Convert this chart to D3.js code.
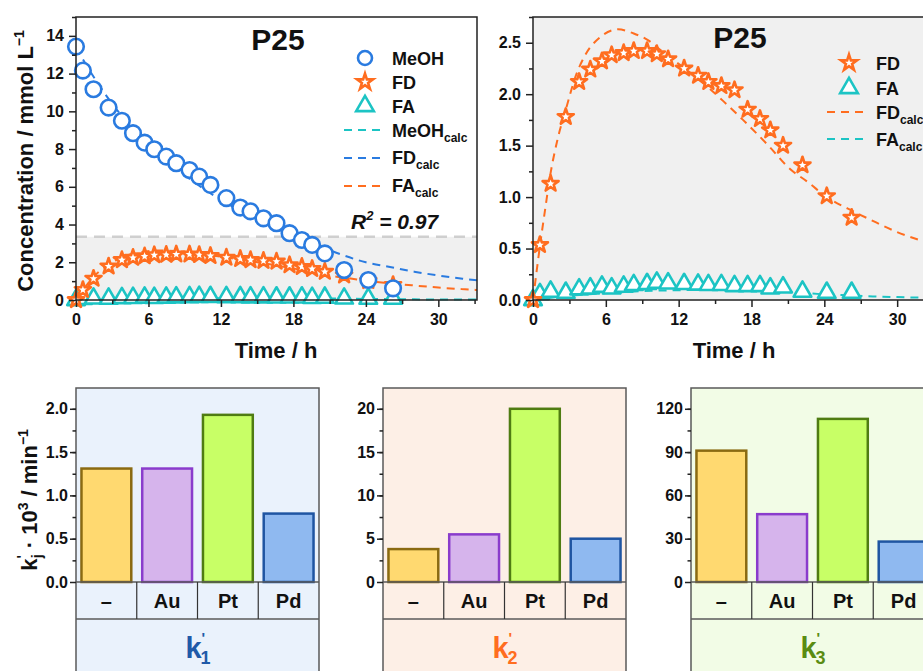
<!DOCTYPE html>
<html>
<head>
<meta charset="utf-8">
<script src="https://cdn.jsdelivr.net/npm/d3@7"></script>
<style>
  body { margin: 0; background: #fff; overflow: hidden; }
  text { font-family: Arial, "Liberation Sans", sans-serif; font-weight: bold; fill: #111; }
  .axis line { stroke: #222; stroke-width: 1.5; }
  .axis path { display: none; }
  .axis text { font-size: 16px; }
</style>
</head>
<body>
<script>
// ---- time series (P25) ----
const timeH = [0, 0.57, 1.45, 2.7, 3.8, 4.72, 5.68, 6.48, 7.47, 8.3, 9.4, 10.2, 11.13, 12.45, 13.6, 14.45, 15.52, 16.6, 17.68, 18.7, 19.55, 20.6, 22.2, 24.2, 26.25];
const meoh = [13.43, 12.16, 11.17, 10.2, 9.5, 8.84, 8.34, 7.99, 7.6, 7.25, 6.89, 6.54, 6.1, 5.4, 4.9, 4.7, 4.33, 4.07, 3.54, 3.18, 2.92, 2.47, 1.59, 1.06, 0.62];
const fd = [0.0, 0.535, 1.13, 1.78, 2.12, 2.24, 2.32, 2.38, 2.40, 2.42, 2.42, 2.39, 2.34, 2.25, 2.18, 2.12, 2.08, 2.04, 1.85, 1.76, 1.65, 1.50, 1.31, 1.01, 0.80];
const fa = [0.0, 0.058, 0.081, 0.071, 0.104, 0.113, 0.13, 0.113, 0.13, 0.146, 0.156, 0.169, 0.162, 0.156, 0.15, 0.146, 0.146, 0.136, 0.136, 0.136, 0.113, 0.123, 0.081, 0.071, 0.071];

const meohCalcT = [0, 1, 2, 3, 4, 5, 6, 8, 10, 12, 14, 16, 18, 20, 22, 24, 26, 28, 30, 32, 33.2];
const meohCalc = [13.4, 12.3, 11.3, 10.4, 9.6, 8.9, 8.25, 7.1, 6.15, 5.3, 4.6, 3.95, 3.4, 2.9, 2.4, 2.0, 1.75, 1.5, 1.3, 1.13, 1.05];
const fdCalcT = [0, 0.3, 0.6, 1.0, 1.4, 2.0, 2.7, 3.5, 4.4, 5.5, 7.0, 8.3, 9.4, 11, 12.5, 14, 15.7, 17.3, 19.4, 21.2, 22.6, 24.2, 25.9, 27.8, 30, 31.9, 33.2];
const fdCalc = [0, 0.28, 0.55, 0.88, 1.2, 1.55, 1.85, 2.17, 2.40, 2.55, 2.63, 2.59, 2.53, 2.38, 2.25, 2.11, 1.93, 1.75, 1.5, 1.27, 1.15, 1.0, 0.89, 0.78, 0.66, 0.58, 0.53];
const faCalcT = [0, 1, 2, 4, 6, 8, 10, 12, 14, 16, 18, 20, 22, 24, 26, 28, 30, 33.2];
const faCalc = [0, 0.015, 0.03, 0.05, 0.065, 0.08, 0.09, 0.095, 0.1, 0.1, 0.095, 0.085, 0.07, 0.055, 0.045, 0.035, 0.028, 0.02];

const xTicks = [0, 6, 12, 18, 24, 30];
const xMinor = [3, 9, 15, 21, 27, 33];
const yTicksL = [0, 2, 4, 6, 8, 10, 12, 14];
const yMinorL = [1, 3, 5, 7, 9, 11, 13, 15];
const yTicksR = [0, 0.5, 1.0, 1.5, 2.0, 2.5];
const yMinorR = [0.25, 0.75, 1.25, 1.75, 2.25, 2.75];

// ---- rate constants ----
const catalysts = ['–', 'Au', 'Pt', 'Pd'];
const k1 = [1.31, 1.31, 1.93, 0.79];
const k2 = [3.8, 5.5, 20.0, 5.0];
const k3 = [91, 47, 113, 28];
const k1Ticks = [0, 0.5, 1.0, 1.5, 2.0];
const k2Ticks = [0, 5, 10, 15, 20];
const k3Ticks = [0, 30, 60, 90, 120];

const BLUE = '#2a7be0', ORANGE = '#ff6d1f', CYAN = '#1cc4c4';
const barFill = ['#ffd970', '#d6b4ec', '#c8ff66', '#8fb9f0'];
const barStroke = ['#8a6a12', '#8a3ccc', '#4f7c12', '#1f55a2'];

const svg = d3.select('body').append('svg').attr('width', 923).attr('height', 671);

const star = d3.symbol().type(d3.symbolStar).size(80);
const tri = d3.symbol().type(d3.symbolTriangle).size(135);

function axes(g, x, y, xt, xm, yt, ym, yFmt, pad) {
  const y0 = y.range()[0], x0 = x.range()[0];
  g.append('g').attr('class', 'axis').attr('transform', `translate(0,${y0})`)
    .call(d3.axisBottom(x).tickValues(xt).tickSize(7).tickPadding(7).tickFormat(d3.format('d')));
  g.append('g').attr('class', 'axis').attr('transform', `translate(0,${y0})`)
    .call(d3.axisBottom(x).tickValues(xm).tickSize(4).tickFormat(''));
  g.append('g').attr('class', 'axis').attr('transform', `translate(${x0},0)`)
    .call(d3.axisLeft(y).tickValues(yt).tickSize(7).tickPadding(pad).tickFormat(yFmt));
  g.append('g').attr('class', 'axis').attr('transform', `translate(${x0},0)`)
    .call(d3.axisLeft(y).tickValues(ym).tickSize(4).tickFormat(''));
}

function dashed(g, x, y, tArr, vArr, color) {
  const line = d3.line().x((d) => x(d[0])).y((d) => y(d[1])).curve(d3.curveMonotoneX);
  g.append('path').datum(tArr.map((t, i) => [t, vArr[i]]))
    .attr('d', line).attr('fill', 'none').attr('stroke', color)
    .attr('stroke-width', 2).attr('stroke-dasharray', '8,6');
}

function markers(g, x, y, vArr, kind, color) {
  const pts = timeH.map((t, i) => [x(t), y(vArr[i])]);
  if (kind === 'circle') {
    g.selectAll(null).data(pts).join('circle')
      .attr('cx', (d) => d[0]).attr('cy', (d) => d[1]).attr('r', 7.8)
      .attr('fill', '#fff').attr('stroke', color).attr('stroke-width', 2.6);
  } else {
    g.selectAll(null).data(pts).join('path')
      .attr('transform', (d) => `translate(${d[0]},${d[1]})`)
      .attr('d', kind === 'star' ? star : tri)
      .attr('fill', '#fff').attr('stroke', color).attr('stroke-width', 2.6)
      .attr('stroke-linejoin', 'round');
  }
}

function legendMark(g, cx, cy, kind, color) {
  if (kind === 'circle') {
    g.append('circle').attr('cx', cx).attr('cy', cy).attr('r', 7)
      .attr('fill', '#fff').attr('stroke', color).attr('stroke-width', 2.6);
  } else if (kind === 'line') {
    g.append('line').attr('x1', cx - 21).attr('x2', cx + 21).attr('y1', cy).attr('y2', cy)
      .attr('stroke', color).attr('stroke-width', 2).attr('stroke-dasharray', '8,6');
  } else {
    g.append('path').attr('transform', `translate(${cx},${cy})`)
      .attr('d', kind === 'star' ? star : tri)
      .attr('fill', '#fff').attr('stroke', color).attr('stroke-width', 2.6);
  }
}

function legendText(g, x, y, main, sub) {
  const t = g.append('text').attr('x', x).attr('y', y).attr('font-size', 18).text(main);
  if (sub) t.append('tspan').attr('font-size', 12).attr('dy', 5).text(sub);
}

function frame(g, x, y) {
  const [x0, x1] = x.range(), [y0, y1] = y.range();
  g.append('path').attr('d', `M${x0},${y0}V${y1}H${x1}V${y0}Z`)
    .attr('fill', 'none').attr('stroke', '#222').attr('stroke-width', 1.5);
}

// ---- top left ----
{
  const g = svg.append('g');
  const x = d3.scaleLinear().domain([0, 33.2]).range([76, 477]);
  const y = d3.scaleLinear().domain([0, 15]).range([300, 17]);
  g.append('rect').attr('x', 76).attr('y', y(3.35)).attr('width', 401).attr('height', y(0) - y(3.35))
    .attr('fill', '#f0f0f0');
  g.append('line').attr('x1', 76).attr('x2', 477).attr('y1', y(3.35)).attr('y2', y(3.35))
    .attr('stroke', '#cfcfcf').attr('stroke-width', 2.5).attr('stroke-dasharray', '11,7');
  dashed(g, x, y, faCalcT, faCalc, CYAN);
  dashed(g, x, y, meohCalcT, meohCalc, BLUE);
  dashed(g, x, y, fdCalcT, fdCalc, ORANGE);
  markers(g, x, y, fa, 'tri', CYAN);
  markers(g, x, y, fd, 'star', ORANGE);
  markers(g, x, y, meoh, 'circle', BLUE);
  frame(g, x, y);
  axes(g, x, y, xTicks, xMinor, yTicksL, yMinorL, d3.format('d'), 5);

  g.append('text').attr('x', 278).attr('y', 50).attr('text-anchor', 'middle').attr('font-size', 30).text('P25');
  legendMark(g, 365, 58, 'circle', BLUE); legendText(g, 392, 65, 'MeOH');
  legendMark(g, 365, 82, 'star', ORANGE); legendText(g, 392, 89, 'FD');
  legendMark(g, 365, 106, 'tri', CYAN); legendText(g, 392, 113, 'FA');
  legendMark(g, 365, 130, 'line', CYAN); legendText(g, 392, 137, 'MeOH', 'calc');
  legendMark(g, 365, 158, 'line', BLUE); legendText(g, 392, 164, 'FD', 'calc');
  legendMark(g, 365, 186, 'line', ORANGE); legendText(g, 392, 192, 'FA', 'calc');

  const r2 = g.append('text').attr('x', 351).attr('y', 229).attr('font-size', 21).attr('font-style', 'italic').text('R');
  r2.append('tspan').attr('font-size', 13).attr('dy', -9).text('2');
  r2.append('tspan').attr('dy', 9).text(' = 0.97');

  g.append('text').attr('x', 276).attr('y', 358).attr('text-anchor', 'middle').attr('font-size', 22).text('Time / h');
  const yl = g.append('text').attr('transform', 'translate(33,161) rotate(-90)')
    .attr('text-anchor', 'middle').attr('font-size', 22).text('Concentration / mmol L');
  yl.append('tspan').attr('font-size', 14).attr('dy', -9).text('−1');
}

// ---- top right ----
{
  const g = svg.append('g');
  const x = d3.scaleLinear().domain([0, 33.2]).range([533, 936]);
  const y = d3.scaleLinear().domain([0, 2.75]).range([300, 17]);
  g.append('rect').attr('x', 533).attr('y', 17).attr('width', 403).attr('height', 283).attr('fill', '#f0f0f0');
  dashed(g, x, y, faCalcT, faCalc, CYAN);
  dashed(g, x, y, fdCalcT, fdCalc, ORANGE);
  markers(g, x, y, fa, 'tri', CYAN);
  markers(g, x, y, fd, 'star', ORANGE);
  frame(g, x, y);
  axes(g, x, y, xTicks, xMinor, yTicksR, yMinorR, d3.format('.1f'), 5);

  g.append('text').attr('x', 740).attr('y', 48).attr('text-anchor', 'middle').attr('font-size', 30).text('P25');
  legendMark(g, 849, 63, 'star', ORANGE); legendText(g, 876, 70, 'FD');
  legendMark(g, 849, 88, 'tri', CYAN); legendText(g, 876, 95, 'FA');
  legendMark(g, 848, 112, 'line', ORANGE); legendText(g, 876, 119, 'FD', 'calc');
  legendMark(g, 848, 139, 'line', CYAN); legendText(g, 876, 146, 'FA', 'calc');

  g.append('text').attr('x', 734).attr('y', 358).attr('text-anchor', 'middle').attr('font-size', 22).text('Time / h');
}

// ---- bottom bar panels ----
function barPanel(x0, values, ticks, minorStep, fmt, bg, kColor, kSub) {
  const g = svg.append('g');
  const w = 243, top = 388, zero = 582, catB = 619, bottom = 690;
  const x = d3.scaleBand().domain(catalysts).range([x0, x0 + w]).paddingInner(0.18).paddingOuter(0.09);
  const yMax = ticks[ticks.length - 1] * 1.12;
  const y = d3.scaleLinear().domain([0, yMax]).range([zero, top]);
  g.append('rect').attr('x', x0).attr('y', top).attr('width', w).attr('height', bottom - top).attr('fill', bg);

  g.selectAll(null).data(values).join('rect')
    .attr('x', (d, i) => x(catalysts[i])).attr('width', x.bandwidth())
    .attr('y', (d) => y(d)).attr('height', (d) => y(0) - y(d))
    .attr('fill', (d, i) => barFill[i]).attr('stroke', (d, i) => barStroke[i]).attr('stroke-width', 2.5);

  const fc = '#5a5a5a';
  g.append('path').attr('d', `M${x0},${bottom}V${top}H${x0 + w}V${bottom}`)
    .attr('fill', 'none').attr('stroke', fc).attr('stroke-width', 1.5);
  [zero, catB].forEach((yy) => g.append('line').attr('x1', x0).attr('x2', x0 + w)
    .attr('y1', yy).attr('y2', yy).attr('stroke', fc).attr('stroke-width', 1.5));
  const step = x.step();
  [1, 2, 3].forEach((i) => g.append('line').attr('x1', x0 + i * step).attr('x2', x0 + i * step)
    .attr('y1', zero).attr('y2', catB).attr('stroke', '#333').attr('stroke-width', 1.2));
  g.selectAll(null).data(catalysts).join('text')
    .attr('x', (d) => x(d) + x.bandwidth() / 2).attr('y', 608)
    .attr('text-anchor', 'middle').attr('font-size', 20).text((d) => d);

  const minor = d3.range(minorStep, yMax, minorStep);
  g.append('g').attr('class', 'axis').attr('transform', `translate(${x0},0)`)
    .call(d3.axisLeft(y).tickValues(ticks).tickSize(6).tickPadding(2).tickFormat(fmt));
  g.append('g').attr('class', 'axis').attr('transform', `translate(${x0},0)`)
    .call(d3.axisLeft(y).tickValues(minor).tickSize(3.5).tickFormat(''));

  // k' with subscript: prime above the subscript, kept as separate texts
  const kx = x0 + w / 2 - 12;
  g.append('text').attr('x', kx).attr('y', 658).attr('font-size', 29).style('fill', kColor).text('k');
  g.append('text').attr('x', kx + 16).attr('y', 643).attr('font-size', 15).style('fill', kColor).text("'");
  g.append('text').attr('x', kx + 15).attr('y', 664).attr('font-size', 18).style('fill', kColor).text(kSub);
}

barPanel(76, k1, k1Ticks, 0.25, d3.format('.1f'), '#eaf2fc', '#1f5aa8', '1');
barPanel(383, k2, k2Ticks, 2.5, d3.format('d'), '#fdefe6', '#ff6d1f', '2');
barPanel(691, k3, k3Ticks, 15, d3.format('d'), '#f2fce6', '#5a8c12', '3');

{
  const t = svg.append('text').attr('transform', 'translate(37,500) rotate(-90)')
    .attr('text-anchor', 'middle').attr('font-size', 22).text('k');
  t.append('tspan').attr('font-size', 14).attr('dy', -10).text("'");
  t.append('tspan').attr('font-size', 14).attr('dx', -3).attr('dy', 15).text('j');
  t.append('tspan').attr('dy', -5).text(' · 10');
  t.append('tspan').attr('font-size', 14).attr('dy', -9).text('3');
  t.append('tspan').attr('dy', 9).text(' / min');
  t.append('tspan').attr('font-size', 14).attr('dy', -9).text('−1');
}
</script>
</body>
</html>
